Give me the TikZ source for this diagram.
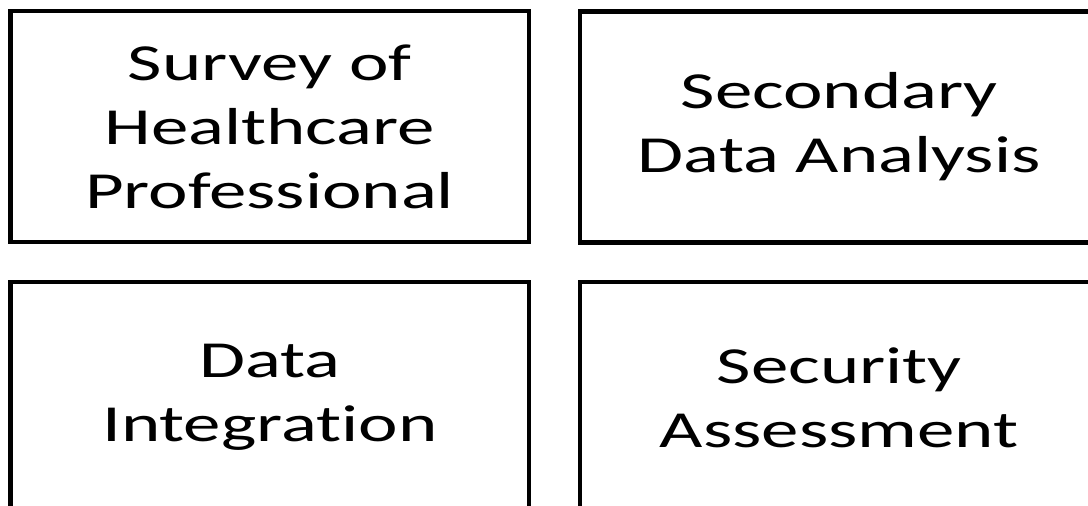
\documentclass[tikz,border=0pt]{standalone}
\usepackage{fontspec}
\setmainfont{Carlito}[FakeStretch=1.44,Ligatures=NoCommon]
\begin{document}
\begin{tikzpicture}[x=0.75pt,y=-0.75pt,
  box/.style={draw=black, line width=3.4pt, fill=white, inner sep=0pt,
    minimum width=388.9pt, minimum height=173.25pt, align=center,
    font=\fontsize{39}{48}\selectfont}]
\useasboundingbox (0,0) rectangle (1088,506);
\clip (0,0) rectangle (1088,506);
\fill[white] (0,0) rectangle (1088,506);
\node[box] (survey) at (269.75,126.5) {Survey of\\Healthcare\\Professional};
\node[box] (secondary) at (839.25,127) {Secondary\\Data Analysis};
\node[box] (integration) at (269.75,397.5) {Data\\Integration};
\node[box] (security) at (839.25,397.5) {Security\\Assessment};
\end{tikzpicture}
\end{document}
